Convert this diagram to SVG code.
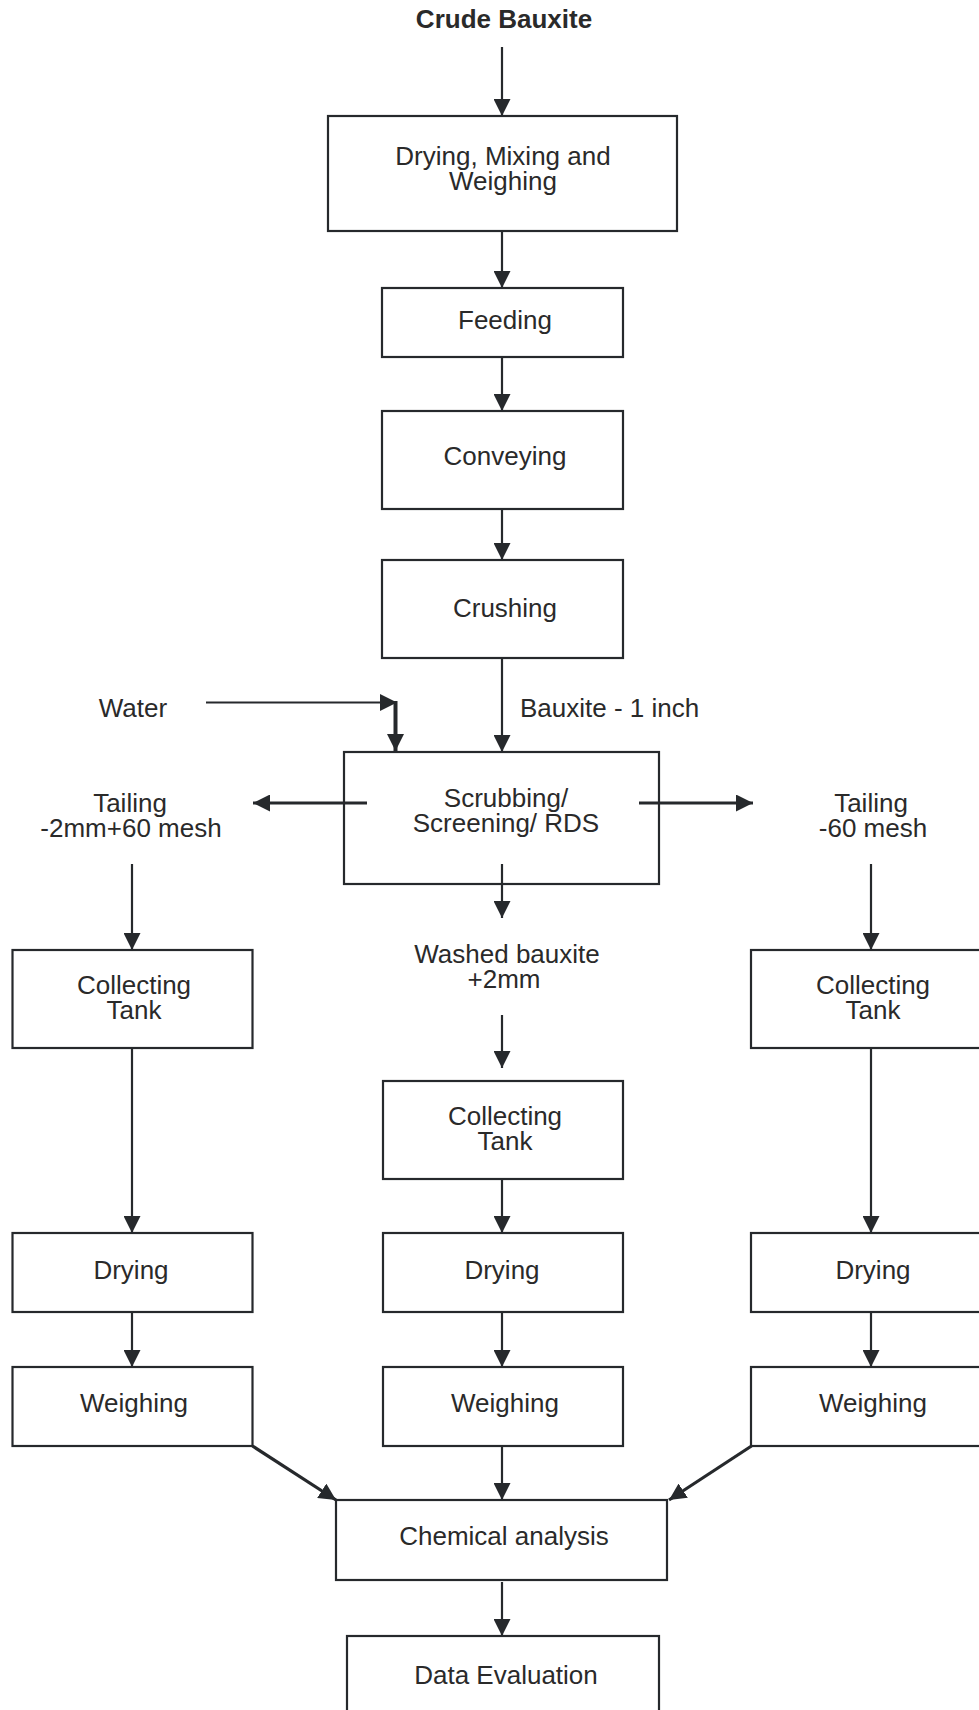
<svg xmlns="http://www.w3.org/2000/svg" width="979" height="1710" viewBox="0 0 979 1710">
<style>
.box{fill:#fff;stroke:#26292c;stroke-width:2.2}
.t{font-family:"Liberation Sans",Arial,sans-serif;font-size:26px;fill:#2a2a2a;text-anchor:middle}
.b{font-weight:bold}
.c{fill:none;stroke:#26292c;stroke-width:2.2}
.k{stroke-width:3.2}
.kk{stroke-width:4}
</style>
<defs>
<marker id="ah" viewBox="0 0 17 17" markerUnits="userSpaceOnUse" markerWidth="17" markerHeight="17" refX="17" refY="8.5" orient="auto">
<path d="M0,0 L17,8.5 L0,17 z" fill="#26292c"/>
</marker>
</defs>
<rect width="979" height="1710" fill="#fff"/>
<g id="crude"><text class="t b" x="504" y="28">Crude Bauxite</text></g>
<g id="dmw"><rect class="box" x="328" y="116" width="349" height="115"/><text class="t" x="503" y="165">Drying, Mixing and</text><text class="t" x="503" y="190">Weighing</text></g>
<g id="feeding"><rect class="box" x="382" y="288" width="241" height="69"/><text class="t" x="505" y="329">Feeding</text></g>
<g id="conveying"><rect class="box" x="382" y="411" width="241" height="98"/><text class="t" x="505" y="465">Conveying</text></g>
<g id="crushing"><rect class="box" x="382" y="560" width="241" height="98"/><text class="t" x="505" y="617">Crushing</text></g>
<g id="water"><text class="t" x="133" y="717">Water</text></g>
<g id="bauxite1"><text class="t" x="520" y="717" style="text-anchor:start">Bauxite - 1 inch</text></g>
<g id="scrubbing"><rect class="box" x="344" y="752" width="315" height="132"/><text class="t" x="506" y="807">Scrubbing/</text><text class="t" x="506" y="832">Screening/ RDS</text></g>
<g id="tailL"><text class="t" x="130" y="812">Tailing</text><text class="t" x="131" y="837">-2mm+60 mesh</text></g>
<g id="tailR"><text class="t" x="871" y="812">Tailing</text><text class="t" x="873" y="837">-60 mesh</text></g>
<g id="washed"><text class="t" x="507" y="963">Washed bauxite</text><text class="t" x="504" y="988">+2mm</text></g>
<g id="ctL"><rect class="box" x="12.5" y="950" width="240" height="98"/><text class="t" x="134" y="994">Collecting</text><text class="t" x="134" y="1019">Tank</text></g>
<g id="ctR"><rect class="box" x="751" y="950" width="240" height="98"/><text class="t" x="873" y="994">Collecting</text><text class="t" x="873" y="1019">Tank</text></g>
<g id="ctM"><rect class="box" x="383" y="1081" width="240" height="98"/><text class="t" x="505" y="1125">Collecting</text><text class="t" x="505" y="1150">Tank</text></g>
<g id="dryL"><rect class="box" x="12.5" y="1233" width="240" height="79"/><text class="t" x="131" y="1279">Drying</text></g>
<g id="dryM"><rect class="box" x="383" y="1233" width="240" height="79"/><text class="t" x="502" y="1279">Drying</text></g>
<g id="dryR"><rect class="box" x="751" y="1233" width="240" height="79"/><text class="t" x="873" y="1279">Drying</text></g>
<g id="wL"><rect class="box" x="12.5" y="1367" width="240" height="79"/><text class="t" x="134" y="1412">Weighing</text></g>
<g id="wM"><rect class="box" x="383" y="1367" width="240" height="79"/><text class="t" x="505" y="1412">Weighing</text></g>
<g id="wR"><rect class="box" x="751" y="1367" width="240" height="79"/><text class="t" x="873" y="1412">Weighing</text></g>
<g id="chem"><rect class="box" x="336" y="1500" width="331" height="80"/><text class="t" x="504" y="1545">Chemical analysis</text></g>
<g id="data"><rect class="box" x="347" y="1636" width="312" height="100"/><text class="t" x="506" y="1684">Data Evaluation</text></g>
<g id="connectors">
<line class="c" x1="502" y1="47" x2="502" y2="116" marker-end="url(#ah)"/>
<line class="c" x1="502" y1="231" x2="502" y2="288" marker-end="url(#ah)"/>
<line class="c" x1="502" y1="357" x2="502" y2="411" marker-end="url(#ah)"/>
<line class="c" x1="502" y1="509" x2="502" y2="560" marker-end="url(#ah)"/>
<line class="c" x1="502" y1="658" x2="502" y2="752" marker-end="url(#ah)"/>
<line class="c" x1="206" y1="702.5" x2="397" y2="702.5" marker-end="url(#ah)"/>
<line class="c kk" x1="395.5" y1="701" x2="395.5" y2="751" marker-end="url(#ah)"/>
<line class="c k" x1="367" y1="803" x2="253" y2="803" marker-end="url(#ah)"/>
<line class="c k" x1="639" y1="803" x2="753" y2="803" marker-end="url(#ah)"/>
<line class="c" x1="502" y1="864" x2="502" y2="918" marker-end="url(#ah)"/>
<line class="c" x1="132" y1="864" x2="132" y2="950" marker-end="url(#ah)"/>
<line class="c" x1="871" y1="864" x2="871" y2="950" marker-end="url(#ah)"/>
<line class="c" x1="502" y1="1015" x2="502" y2="1068" marker-end="url(#ah)"/>
<line class="c" x1="132" y1="1048" x2="132" y2="1233" marker-end="url(#ah)"/>
<line class="c" x1="502" y1="1179" x2="502" y2="1233" marker-end="url(#ah)"/>
<line class="c" x1="871" y1="1048" x2="871" y2="1233" marker-end="url(#ah)"/>
<line class="c" x1="132" y1="1312" x2="132" y2="1367" marker-end="url(#ah)"/>
<line class="c" x1="502" y1="1312" x2="502" y2="1367" marker-end="url(#ah)"/>
<line class="c" x1="871" y1="1312" x2="871" y2="1367" marker-end="url(#ah)"/>
<line class="c k" x1="252.5" y1="1446" x2="336" y2="1500" marker-end="url(#ah)"/>
<line class="c" x1="502" y1="1446" x2="502" y2="1500" marker-end="url(#ah)"/>
<line class="c k" x1="751.5" y1="1446" x2="669" y2="1500" marker-end="url(#ah)"/>
<line class="c" x1="502" y1="1582" x2="502" y2="1636" marker-end="url(#ah)"/>
</g>
</svg>
